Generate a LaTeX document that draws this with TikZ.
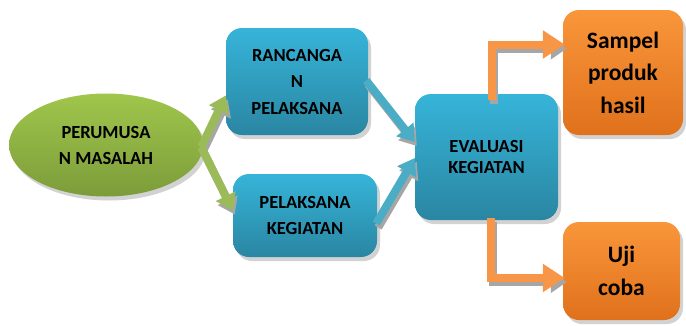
\documentclass[tikz,border=0pt]{standalone}
\usepackage{fontspec}
\setmainfont{Carlito}
\usetikzlibrary{shapes.geometric,shadows,arrows.meta,calc}
\definecolor{bluetop}{HTML}{36B4D9}
\definecolor{bluebot}{HTML}{2A86A2}
\definecolor{greentop}{HTML}{A0C64C}
\definecolor{greenbot}{HTML}{7C9C3A}
\definecolor{orangetop}{HTML}{F9963A}
\definecolor{orangebot}{HTML}{E0711C}
\definecolor{greenarrow}{HTML}{9BBB59}
\definecolor{bluearrow}{HTML}{4BACC6}
\definecolor{orangearrow}{HTML}{F79646}
\tikzset{
  shad/.style={drop shadow={shadow xshift=3pt,shadow yshift=-4pt,fill=black!35}},
  bluebox/.style={rounded corners=16pt,top color=bluetop,bottom color=bluebot,shad,
    align=center,font=\bfseries\fontsize{18.5}{26.5}\selectfont,inner sep=0pt},
  orangebox/.style={rounded corners=16pt,top color=orangetop,bottom color=orangebot,shad,
    align=center,font=\bfseries\fontsize{23.5}{32.5}\selectfont,inner sep=0pt},
  bigarrow/.style={line width=8pt,-{Triangle[width=21pt,length=16pt]}},
  arrowshadow/.style={bigarrow,draw=black!35,transform canvas={shift={(2pt,-4pt)}}},
}
\begin{document}
\begin{tikzpicture}[x=1pt,y=-1pt]
\useasboundingbox (0,0) rectangle (686,325);
% nodes
\node[ellipse,minimum width=194pt,minimum height=103pt,top color=greentop,bottom color=greenbot,
  shad,align=center,font=\bfseries\fontsize{18.5}{26}\selectfont,inner sep=0pt] (ell) at (106,145) {PERUMUSA\\N MASALAH};
\node[bluebox,minimum width=142pt,minimum height=107pt] (ranc) at (297,81.5) {RANCANGA\\N\\PELAKSANA};
\node[bluebox,minimum width=144pt,minimum height=83pt] (pel) at (305,215.5) {PELAKSANA\\KEGIATAN};
\node[bluebox,minimum width=143pt,minimum height=126pt,font=\bfseries\fontsize{18.5}{21.5}\selectfont] (eval) at (486.5,157) {EVALUASI\\KEGIATAN};
\node[orangebox,minimum width=120pt,minimum height=125pt] (samp) at (623,72.5) {Sampel\\produk\\hasil};
\node[orangebox,minimum width=117pt,minimum height=98pt] (uji) at (621.5,271) {Uji\\coba};
% connector end points
\coordinate (g1s) at ($(ell.east)+(-2,2)$);
\coordinate (g1e) at ($(ranc.west)+(0,14)$);
\coordinate (g2e) at ($(pel.west)+(0,-5)$);
\coordinate (b1s) at ($(ranc.east)+(-2,-1)$);
\coordinate (b1e) at ($(eval.west)+(0,-15)$);
\coordinate (b2s) at ($(pel.east)+(-1,8)$);
\coordinate (b2e) at ($(eval.west)+(0,1)$);
\coordinate (o1s) at ($(eval.north)+(5,6)$);
\coordinate (o1e) at ($(samp.west)+(2,-28)$);
\coordinate (o2s) at ($(eval.south)+(4,-2)$);
\coordinate (o2e) at ($(uji.west)+(2,7)$);
% shadows of connectors
\draw[arrowshadow] (g1s) -- (g1e);
\draw[arrowshadow] (g1s) -- (g2e);
\draw[arrowshadow] (b1s) -- (b1e);
\draw[arrowshadow] (b2s) -- (b2e);
\draw[arrowshadow] (o1s) |- (o1e);
\draw[arrowshadow] (o2s) |- (o2e);
% connectors
\draw[bigarrow,greenarrow] (g1s) -- (g1e);
\draw[bigarrow,greenarrow] (g1s) -- (g2e);
\draw[bigarrow,bluearrow] (b1s) -- (b1e);
\draw[bigarrow,bluearrow] (b2s) -- (b2e);
\draw[bigarrow,orangearrow,-{Triangle[width=27pt,length=22pt]}] (o1s) |- (o1e);
\draw[bigarrow,orangearrow,-{Triangle[width=27pt,length=22pt]}] (o2s) |- (o2e);
\end{tikzpicture}
\end{document}
